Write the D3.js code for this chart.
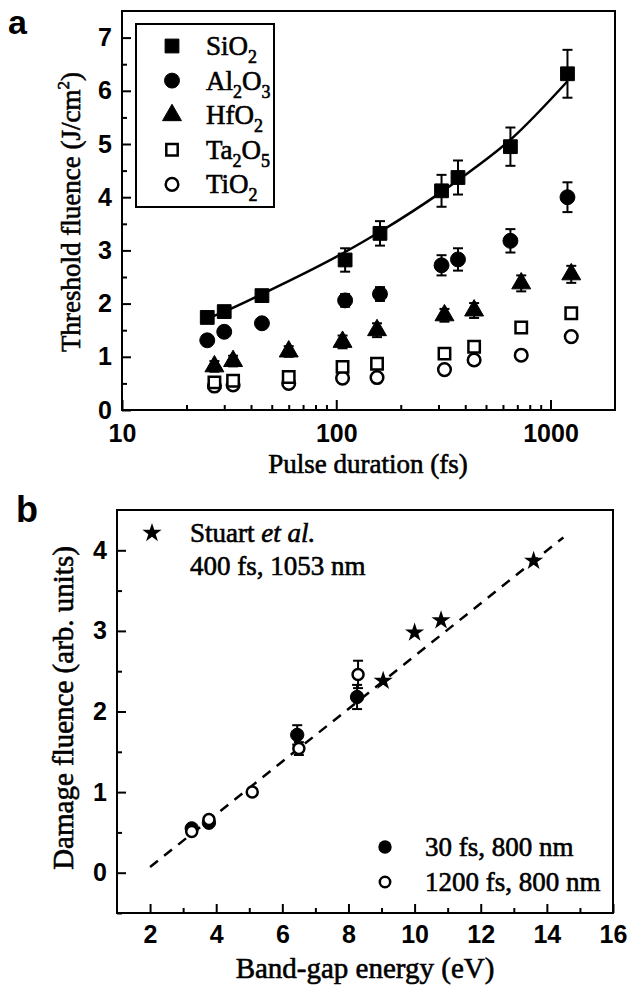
<!DOCTYPE html>
<html>
<head>
<meta charset="utf-8">
<script src="https://cdn.jsdelivr.net/npm/d3@7"></script>
<style>
  body { margin: 0; background: #fff; }
  svg { display: block; }
  .tick text { font-family: "Liberation Sans", Arial, sans-serif; font-weight: bold; font-size: 25px; fill: #000; }
  .tick line { stroke: #000; stroke-width: 2; }
  .ttl { font-family: "Liberation Serif", "Times New Roman", serif; fill: #000; stroke: #000; stroke-width: 0.6; }
</style>
</head>
<body>
<div id="plot"></div>
<script>
// ---- panel a data (pulse duration in fs, threshold fluence in J/cm2)
var siDur  = [25, 30, 45, 110, 160, 310, 370, 650, 1200];
var siVal  = [1.74, 1.85, 2.15, 2.82, 3.32, 4.12, 4.37, 4.95, 6.32];
var siErr  = [0.08, 0.08, 0.1, 0.22, 0.23, 0.3, 0.32, 0.36, 0.45];
var alDur  = [25, 30, 45, 110, 160, 310, 370, 650, 1200];
var alVal  = [1.31, 1.47, 1.63, 2.06, 2.18, 2.72, 2.83, 3.18, 4.0];
var alErr  = [0.06, 0.06, 0.08, 0.12, 0.13, 0.19, 0.21, 0.22, 0.28];
var hfDur  = [27, 33, 60, 107, 155, 320, 440, 730, 1250];
var hfVal  = [0.82, 0.92, 1.1, 1.28, 1.5, 1.78, 1.87, 2.38, 2.55];
var hfErr  = [0.1, 0.1, 0.1, 0.12, 0.13, 0.12, 0.14, 0.15, 0.16];
var taDur  = [27, 33, 60, 107, 155, 320, 440, 730, 1250];
var taVal  = [0.52, 0.55, 0.62, 0.81, 0.87, 1.06, 1.19, 1.55, 1.82];
var taErr  = [0.05, 0.05, 0.06, 0.07, 0.07, 0.08, 0.08, 0.06, 0.08];
var tiDur  = [27, 33, 60, 107, 155, 320, 440, 730, 1250];
var tiVal  = [0.45, 0.47, 0.5, 0.6, 0.61, 0.76, 0.94, 1.03, 1.38];
var tiErr  = [0.04, 0.04, 0.05, 0.05, 0.05, 0.05, 0.05, 0.05, 0.05];
// fitted curve through the SiO2 points
var fitDur = [25, 30, 45, 110, 160, 310, 370, 650, 1200];
var fitVal = [1.72, 1.85, 2.18, 2.97, 3.35, 4.1, 4.32, 5.08, 6.18];
var xTicksA = [10, 100, 1000];
var yTicksA = [0, 1, 2, 3, 4, 5, 6, 7];

// ---- panel b data (band-gap energy in eV, damage fluence arb. units)
var stuartGap = [9.05, 10.0, 10.8, 13.6];
var stuartVal = [2.38, 2.98, 3.13, 3.87];
var fs30Gap   = [3.26, 3.78, 6.45, 8.26];
var fs30Val   = [0.55, 0.62, 1.71, 2.18];
var fs30Err   = [0.04, 0.04, 0.12, 0.15];
var fs1200Gap = [3.26, 3.78, 5.09, 6.5, 8.29];
var fs1200Val = [0.51, 0.66, 1.0, 1.54, 2.46];
var fs1200Err = [0.03, 0.03, 0.03, 0.08, 0.17];
var lineGap   = [2, 14.5];
var lineVal   = [0.07, 4.16];
var xTicksB = [2, 4, 6, 8, 10, 12, 14, 16];
var yTicksB = [0, 1, 2, 3, 4];

var w = 630, h = 989;
var svg = d3.select("#plot").append("svg")
    .attr("width", w)
    .attr("height", h);

function zip(xs, ys, es) {
  return xs.map(function(x, i) { return {x: x, y: ys[i], e: es ? es[i] : 0}; });
}

// ================= PANEL A =================
var xA = d3.scaleLog().domain([10, 2000]).range([122, 615]);
var yA = d3.scaleLinear().domain([0, 7.5]).range([410, 11]);

var gA = svg.append("g");

// minor ticks
var minorA = [];
[10, 100, 1000].forEach(function(d) { for (var k = 2; k <= 9; k++) if (d * k < 2000) minorA.push(d * k); });
gA.append("g").attr("transform", "translate(0,410)")
    .call(d3.axisBottom(xA).tickValues(minorA).tickSize(-5).tickFormat(""))
    .call(function(g) { g.select(".domain").remove(); });
gA.append("g").attr("transform", "translate(0,410)")
    .call(d3.axisBottom(xA).tickValues(xTicksA).tickSizeInner(-10).tickSizeOuter(0).tickPadding(14).tickFormat(d3.format("d")))
    .call(function(g) { g.select(".domain").remove(); });
gA.append("g").attr("transform", "translate(122,0)")
    .call(d3.axisLeft(yA).tickValues(d3.range(0.5, 7.5, 1)).tickSize(-5).tickFormat(""))
    .call(function(g) { g.select(".domain").remove(); });
gA.append("g").attr("transform", "translate(122,0)")
    .call(d3.axisLeft(yA).tickValues(yTicksA).tickSizeInner(-9).tickSizeOuter(0).tickPadding(10).tickFormat(d3.format("d")))
    .call(function(g) { g.select(".domain").remove(); });

// frame
gA.append("rect")
    .attr("x", xA.range()[0]).attr("y", yA.range()[1])
    .attr("width", xA.range()[1] - xA.range()[0])
    .attr("height", yA.range()[0] - yA.range()[1])
    .attr("fill", "none").attr("stroke", "#000").attr("stroke-width", 2);

// fit line through SiO2
gA.append("path")
    .datum(zip(fitDur, fitVal))
    .attr("fill", "none").attr("stroke", "#000").attr("stroke-width", 2.5)
    .attr("d", d3.line().x(function(d) { return xA(d.x); }).y(function(d) { return yA(d.y); }).curve(d3.curveMonotoneX));

function errorBars(g, data, xs, ys) {
  var eb = g.append("g").attr("stroke", "#000").attr("stroke-width", 2);
  data.forEach(function(d) {
    var x = xs(d.x);
    eb.append("line").attr("x1", x).attr("x2", x).attr("y1", ys(d.y - d.e)).attr("y2", ys(d.y + d.e));
    eb.append("line").attr("x1", x - 5).attr("x2", x + 5).attr("y1", ys(d.y - d.e)).attr("y2", ys(d.y - d.e));
    eb.append("line").attr("x1", x - 5).attr("x2", x + 5).attr("y1", ys(d.y + d.e)).attr("y2", ys(d.y + d.e));
  });
}

var seriesA = [
  {name: ["SiO", "2"], data: zip(siDur, siVal, siErr), type: d3.symbolSquare, size: 190, fill: "#000"},
  {name: ["Al", "2", "O", "3"], data: zip(alDur, alVal, alErr), type: d3.symbolCircle, size: 175, fill: "#000"},
  {name: ["HfO", "2"], data: zip(hfDur, hfVal, hfErr), type: d3.symbolTriangle, size: 155, fill: "#000"},
  {name: ["Ta", "2", "O", "5"], data: zip(taDur, taVal, taErr), type: d3.symbolSquare, size: 130, fill: "#fff"},
  {name: ["TiO", "2"], data: zip(tiDur, tiVal, tiErr), type: d3.symbolCircle, size: 125, fill: "#fff"}
];

seriesA.slice().reverse().forEach(function(s) {
  errorBars(gA, s.data, xA, yA);
  gA.append("g").selectAll("path")
      .data(s.data)
      .enter().append("path")
      .attr("d", d3.symbol().type(s.type).size(s.size))
      .attr("fill", s.fill)
      .attr("stroke", "#000")
      .attr("stroke-width", s.fill === "#000" ? 1 : 2.5)
      .attr("transform", function(d) { return "translate(" + xA(d.x) + "," + yA(d.y) + ")"; });
});

// legend
var legA = gA.append("g");
legA.append("rect").attr("x", 136).attr("y", 24).attr("width", 138).attr("height", 183)
    .attr("fill", "#fff").attr("stroke", "#000").attr("stroke-width", 2);
seriesA.forEach(function(s, i) {
  var yy = 46 + i * 34.6;
  legA.append("path")
      .attr("d", d3.symbol().type(s.type).size(s.size))
      .attr("fill", s.fill).attr("stroke", "#000")
      .attr("stroke-width", s.fill === "#000" ? 1 : 2.5)
      .attr("transform", "translate(172," + yy + ")");
  var t = legA.append("text").attr("class", "ttl").attr("x", 206).attr("y", yy + 9).attr("font-size", 27);
  s.name.forEach(function(part, j) {
    var ts = t.append("tspan").text(part);
    if (j % 2 === 1) ts.attr("font-size", 18).attr("dy", 8);
    else if (j > 0) ts.attr("dy", -8);
  });
});

// titles
gA.append("text").attr("class", "ttl").attr("x", 368).attr("y", 473)
    .attr("text-anchor", "middle").attr("font-size", 27)
    .text("Pulse duration (fs)");
var ytA = gA.append("text").attr("class", "ttl")
    .attr("transform", "translate(80,212) rotate(-90)")
    .attr("text-anchor", "middle").attr("font-size", 27);
ytA.append("tspan").text("Threshold fluence (J/cm");
ytA.append("tspan").text("2").attr("font-size", 17).attr("dy", -11);
ytA.append("tspan").text(")").attr("dy", 11);

svg.append("text").attr("x", 8).attr("y", 34)
    .attr("font-family", "Liberation Sans, Arial, sans-serif").attr("font-weight", "bold")
    .attr("font-size", 34).text("a");

// ================= PANEL B =================
var xB = d3.scaleLinear().domain([1, 16]).range([117, 613]);
var yB = d3.scaleLinear().domain([-0.5, 4.5]).range([913, 510]);
var gB = svg.append("g");

gB.append("g").attr("transform", "translate(0,913)")
    .call(d3.axisBottom(xB).tickValues(d3.range(3, 16, 2)).tickSize(-5).tickFormat(""))
    .call(function(g) { g.select(".domain").remove(); });
gB.append("g").attr("transform", "translate(0,913)")
    .call(d3.axisBottom(xB).tickValues(xTicksB).tickSizeInner(-9).tickSizeOuter(0).tickPadding(12).tickFormat(d3.format("d")))
    .call(function(g) { g.select(".domain").remove(); });
gB.append("g").attr("transform", "translate(117,0)")
    .call(d3.axisLeft(yB).tickValues([-0.5, 0.5, 1.5, 2.5, 3.5]).tickSize(-5).tickFormat(""))
    .call(function(g) { g.select(".domain").remove(); });
gB.append("g").attr("transform", "translate(117,0)")
    .call(d3.axisLeft(yB).tickValues(yTicksB).tickSizeInner(-9).tickSizeOuter(0).tickPadding(10).tickFormat(d3.format("d")))
    .call(function(g) { g.select(".domain").remove(); });

gB.append("rect")
    .attr("x", xB.range()[0]).attr("y", yB.range()[1])
    .attr("width", xB.range()[1] - xB.range()[0])
    .attr("height", yB.range()[0] - yB.range()[1])
    .attr("fill", "none").attr("stroke", "#000").attr("stroke-width", 2);

gB.append("path")
    .datum(zip(lineGap, lineVal))
    .attr("fill", "none").attr("stroke", "#000").attr("stroke-width", 2.5)
    .attr("stroke-dasharray", "10,8")
    .attr("d", d3.line().x(function(d) { return xB(d.x); }).y(function(d) { return yB(d.y); }));

var d1200 = zip(fs1200Gap, fs1200Val, fs1200Err);
var d30 = zip(fs30Gap, fs30Val, fs30Err);
errorBars(gB, d1200, xB, yB);
errorBars(gB, d30, xB, yB);
gB.append("g").selectAll("path").data(d30).enter().append("path")
    .attr("d", d3.symbol().type(d3.symbolCircle).size(140))
    .attr("fill", "#000").attr("stroke", "#000")
    .attr("transform", function(d) { return "translate(" + xB(d.x) + "," + yB(d.y) + ")"; });
gB.append("g").selectAll("path").data(d1200).enter().append("path")
    .attr("d", d3.symbol().type(d3.symbolCircle).size(95))
    .attr("fill", "#fff").attr("stroke", "#000").attr("stroke-width", 2.5)
    .attr("transform", function(d) { return "translate(" + xB(d.x) + "," + yB(d.y) + ")"; });
gB.append("g").selectAll("path").data(zip(stuartGap, stuartVal)).enter().append("path")
    .attr("d", d3.symbol().type(d3.symbolStar).size(115))
    .attr("fill", "#000")
    .attr("transform", function(d) { return "translate(" + xB(d.x) + "," + yB(d.y) + ")"; });

// legends
gB.append("path").attr("d", d3.symbol().type(d3.symbolStar).size(115)).attr("fill", "#000")
    .attr("transform", "translate(152,533)");
var st = gB.append("text").attr("class", "ttl").attr("x", 190).attr("y", 542).attr("font-size", 27);
st.append("tspan").text("Stuart ");
st.append("tspan").text("et al.").attr("font-style", "italic");
gB.append("text").attr("class", "ttl").attr("x", 190).attr("y", 575).attr("font-size", 27)
    .text("400 fs, 1053 nm");

gB.append("path").attr("d", d3.symbol().type(d3.symbolCircle).size(140)).attr("fill", "#000")
    .attr("transform", "translate(385,847)");
gB.append("text").attr("class", "ttl").attr("x", 425).attr("y", 856).attr("font-size", 27)
    .text("30 fs, 800 nm");
gB.append("path").attr("d", d3.symbol().type(d3.symbolCircle).size(85)).attr("fill", "#fff")
    .attr("stroke", "#000").attr("stroke-width", 2.5)
    .attr("transform", "translate(385,882)");
gB.append("text").attr("class", "ttl").attr("x", 425).attr("y", 891).attr("font-size", 27)
    .text("1200 fs, 800 nm");

gB.append("text").attr("class", "ttl").attr("x", 365).attr("y", 978)
    .attr("text-anchor", "middle").attr("font-size", 29)
    .text("Band-gap energy (eV)");
gB.append("text").attr("class", "ttl")
    .attr("transform", "translate(73,708) rotate(-90)")
    .attr("text-anchor", "middle").attr("font-size", 29)
    .text("Damage fluence (arb. units)");

svg.append("text").attr("x", 16).attr("y", 522)
    .attr("font-family", "Liberation Sans, Arial, sans-serif").attr("font-weight", "bold")
    .attr("font-size", 36).text("b");
</script>
</body>
</html>
